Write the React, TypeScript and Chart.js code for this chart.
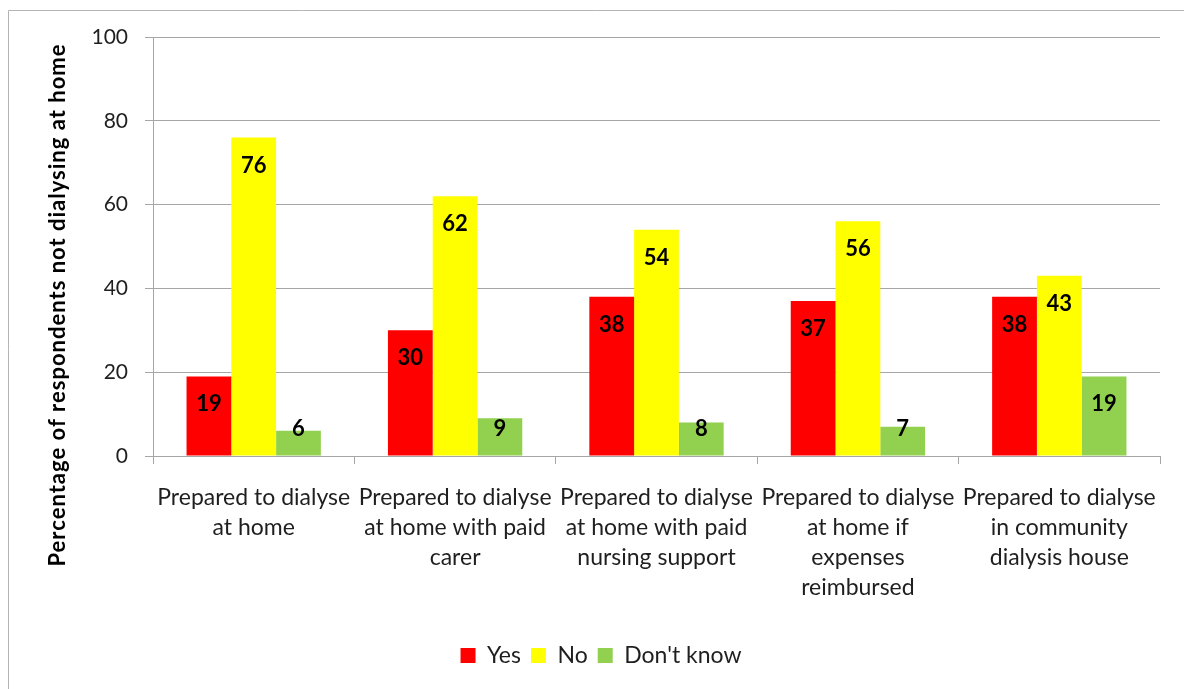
import React, { useEffect, useRef } from "react";
import { Chart, registerables } from "chart.js";

Chart.register(...registerables);

const categories: string[][] = [
  ["Prepared to dialyse", "at home"],
  ["Prepared to dialyse", "at home with paid", "carer"],
  ["Prepared to dialyse", "at home with paid", "nursing support"],
  ["Prepared to dialyse", "at home if", "expenses", "reimbursed"],
  ["Prepared to dialyse", "in community", "dialysis house"],
];
const yesValues = [19, 30, 38, 37, 38];
const noValues = [76, 62, 54, 56, 43];
const dontKnowValues = [6, 9, 8, 7, 19];
const seriesNames = ["Yes", "No", "Don't know"];
const yTicks = [0, 20, 40, 60, 80, 100];
const yTitle = "Percentage of respondents not dialysing at home";

const FONT = "Lato, 'Open Sans', sans-serif";
const TEXT = "#1f1f1f";
const GRID = "#a6a6a6";

const framePlugin = {
  id: "frame",
  beforeDraw(chart: any) {
    const ctx = chart.ctx;
    ctx.save();
    ctx.strokeStyle = "#b4b4b4";
    ctx.lineWidth = 1;
    ctx.beginPath();
    ctx.moveTo(8.5, chart.height);
    ctx.lineTo(8.5, 10.5);
    ctx.lineTo(chart.width, 10.5);
    ctx.stroke();
    ctx.restore();
  },
};

const labelPlugin = {
  id: "barLabels",
  afterDatasetsDraw(chart: any) {
    const ctx = chart.ctx;
    ctx.save();
    ctx.font = `bold 22px ${FONT}`;
    ctx.fillStyle = "#000";
    ctx.textAlign = "center";
    ctx.textBaseline = "middle";
    chart.data.datasets.forEach((ds: any, i: number) => {
      const meta = chart.getDatasetMeta(i);
      meta.data.forEach((bar: any, j: number) => {
        const { x, y, base } = bar.getProps(["x", "y", "base"], true);
        const ty = Math.min(y + 28, base - 27);
        ctx.fillText(String(ds.data[j]), x, ty);
      });
    });
    ctx.restore();
  },
};

const yTitlePlugin = {
  id: "yTitle",
  afterDraw(chart: any) {
    const ctx = chart.ctx;
    ctx.save();
    ctx.translate(58, 305);
    ctx.rotate(-Math.PI / 2);
    ctx.font = `bold 22px ${FONT}`;
    try {
      (ctx as any).letterSpacing = "1px";
    } catch (e) {}
    ctx.fillStyle = "#000";
    ctx.textAlign = "center";
    ctx.textBaseline = "middle";
    ctx.fillText(yTitle, 0, 0);
    ctx.restore();
  },
};

export default function App() {
  const ref = useRef<HTMLCanvasElement>(null);
  useEffect(() => {
    if (!ref.current) return;
    const chart = new Chart(ref.current, {
      type: "bar",
      data: {
        labels: categories,
        datasets: [
          { label: seriesNames[0], data: yesValues, backgroundColor: "#FF0000" },
          { label: seriesNames[1], data: noValues, backgroundColor: "#FFFF00" },
          { label: seriesNames[2], data: dontKnowValues, backgroundColor: "#92D050" },
        ],
      },
      options: {
        animation: false,
        responsive: false,
        maintainAspectRatio: false,
        layout: { padding: { top: 37, right: 24, bottom: 12, left: 42 } },
        datasets: { bar: { categoryPercentage: 0.667, barPercentage: 1 } },
        plugins: {
          legend: {
            position: "bottom",
            labels: {
              boxWidth: 15,
              boxHeight: 15,
              padding: 10,
              color: TEXT,
              font: { family: FONT, size: 23 },
            },
          },
          tooltip: { enabled: false },
        },
        scales: {
          x: {
            afterFit(scale: any) {
              scale.height = 178;
            },
            grid: {
              display: true,
              drawOnChartArea: false,
              drawTicks: true,
              offset: true,
              tickLength: 8,
              color: GRID,
            },
            border: { display: true, color: GRID },
            ticks: {
              color: TEXT,
              font: { family: FONT, size: 23, lineHeight: 1.3 },
              padding: 19,
              maxRotation: 0,
              minRotation: 0,
              autoSkip: false,
            },
          },
          y: {
            min: 0,
            max: 100,
            afterFit(scale: any) {
              scale.width = 111;
            },
            afterBuildTicks(scale: any) {
              scale.ticks = yTicks.map((v) => ({ value: v }));
            },
            grid: { color: GRID, tickLength: 8 },
            border: { display: true, color: GRID },
            ticks: {
              color: TEXT,
              font: { family: FONT, size: 21 },
              padding: 17,
            },
          },
        },
      },
      plugins: [framePlugin, labelPlugin, yTitlePlugin],
    });
    return () => chart.destroy();
  }, []);
  return (
    <div style={{ position: "fixed", left: 0, top: 0, width: 1184, height: 689, background: "#fff" }}>
      <canvas ref={ref} width={1184} height={689} style={{ width: 1184, height: 689, display: "block" }} />
    </div>
  );
}
